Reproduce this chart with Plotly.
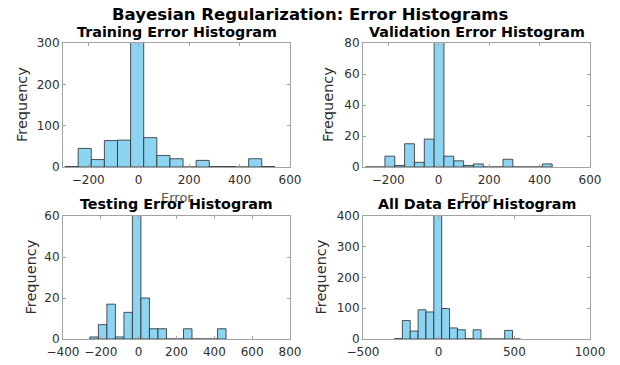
import plotly.graph_objects as go

# Histogram bin edges (error values) and counts for each data split
train_edges = [-292, -240, -188, -136, -84, -32, 20, 72, 124, 176, 228, 280, 332, 384, 436, 488, 540]
train_counts = [1, 45, 18, 64, 65, 330, 71, 28, 20, 0, 16, 1, 1, 0, 20, 1]

val_edges = [-291, -252, -213, -174, -135, -96, -57, -18, 21, 60, 99, 138, 177, 216, 255, 294, 333, 372, 411, 450]
val_counts = [0, 0, 7, 1, 15, 3, 18, 85, 7, 4, 1, 2, 0, 0, 5, 0, 0, 0, 2]

test_edges = [-258, -213, -168, -123, -78, -33, 12, 57, 102, 147, 192, 237, 282, 327, 372, 417, 462]
test_counts = [1, 7, 17, 1, 13, 70, 20, 5, 5, 0, 0, 5, 0, 0, 0, 5]

all_edges = [-292, -240, -188, -136, -84, -32, 20, 72, 124, 176, 228, 280, 332, 384, 436, 488, 540]
all_counts = [1, 60, 26, 95, 88, 480, 99, 36, 30, 1, 30, 0, 0, 0, 28, 0]

panel_titles = ["Training Error Histogram", "Validation Error Histogram",
                "Testing Error Histogram", "All Data Error Histogram"]
main_title = "Bayesian Regularization: Error Histograms"

x_ranges = [[-300, 600], [-300, 600], [-400, 800], [-500, 1000]]
x_dticks = [200, 200, 200, 500]
y_ranges = [[0, 300], [0, 80], [0, 60], [0, 400]]
y_dticks = [100, 20, 20, 100]

W, H = 620, 365
# pixel boxes of each axes: (left, right, top, bottom)
boxes = [(63, 290, 43, 167), (363, 590, 43, 167),
         (63, 290, 216, 339), (363, 590, 216, 339)]

BAR_FILL = "#8dd4f2"
BAR_EDGE = "#2a2a2a"
AX_COLOR = "#a3a3a3"
TXT_COLOR = "#2e2e2e"
FONT = "DejaVu Sans"

fig = go.Figure()

datasets = [(train_edges, train_counts), (val_edges, val_counts),
            (test_edges, test_counts), (all_edges, all_counts)]

for i, (edges, counts) in enumerate(datasets):
    centers = [(edges[k] + edges[k + 1]) / 2 for k in range(len(counts))]
    widths = [edges[k + 1] - edges[k] for k in range(len(counts))]
    sfx = "" if i == 0 else str(i + 1)
    fig.add_trace(go.Bar(
        x=centers, y=counts, width=widths,
        marker=dict(color=BAR_FILL, line=dict(color=BAR_EDGE, width=0.8)),
        xaxis="x" + sfx, yaxis="y" + sfx, showlegend=False,
        hoverinfo="skip",
    ))

layout = dict(
    template="none",
    width=W, height=H,
    margin=dict(l=0, r=0, t=0, b=0, pad=0),
    paper_bgcolor="white", plot_bgcolor="white",
    showlegend=False,
    annotations=[],
)

for i, (l, r, t, b) in enumerate(boxes):
    sfx = "" if i == 0 else str(i + 1)
    common = dict(showline=True, linecolor=AX_COLOR, linewidth=1, mirror="ticks",
                  ticks="inside", ticklen=3, tickcolor=AX_COLOR, tickwidth=1,
                  showgrid=False, zeroline=False, fixedrange=True, automargin=False,
                  tickfont=dict(family=FONT, size=12, color=TXT_COLOR))
    layout["xaxis" + sfx] = dict(common, domain=[l / W, r / W], range=x_ranges[i],
                                 tick0=0, dtick=x_dticks[i], anchor="y" + sfx,
                                 ticklabelstandoff=2)
    layout["yaxis" + sfx] = dict(common, domain=[1 - b / H, 1 - t / H], range=y_ranges[i],
                                 tick0=0, dtick=y_dticks[i], anchor="x" + sfx)

# x-axis labels of the upper row (the lower row's fall below the page)
for l, r, t, b in boxes[:2]:
    layout["annotations"].append(dict(
        text="Error", x=(l + r) / 2 / W, y=1 - (b + 30) / H, xref="paper", yref="paper",
        xanchor="center", yanchor="middle", showarrow=False,
        font=dict(family=FONT, size=13, color="#555555")))

ylab_x = [22, 328, 30, 320]
for i, (l, r, t, b) in enumerate(boxes):
    layout["annotations"].append(dict(
        text="Frequency", x=ylab_x[i] / W, y=1 - (t + b) / 2 / H,
        xref="paper", yref="paper", xanchor="center", yanchor="middle",
        textangle=-90, showarrow=False,
        font=dict(family=FONT, size=14.5, color=TXT_COLOR)))

title_y = [32, 32, 204, 204]
for i, (l, r, t, b) in enumerate(boxes):
    layout["annotations"].append(dict(
        text=panel_titles[i], x=(l + r) / 2 / W, y=1 - title_y[i] / H,
        xref="paper", yref="paper", xanchor="center", yanchor="middle",
        showarrow=False,
        font=dict(family=FONT, size=14.3, color="black", weight="bold")))

layout["annotations"].append(dict(
    text=main_title, x=0.5, y=1 - 15 / H, xref="paper", yref="paper",
    xanchor="center", yanchor="middle", showarrow=False,
    font=dict(family=FONT, size=16.5, color="black", weight="bold")))

fig.update_layout(**layout)
fig.write_html("out.html")
